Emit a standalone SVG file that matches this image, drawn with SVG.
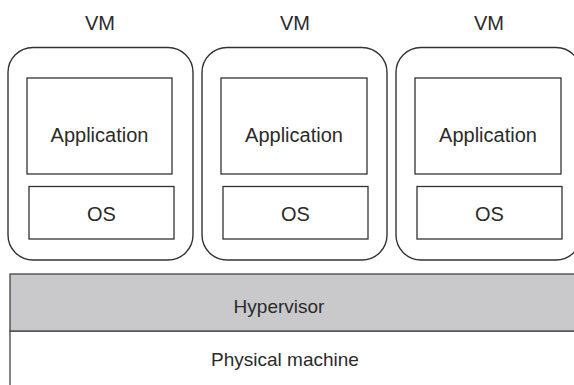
<svg xmlns="http://www.w3.org/2000/svg" width="574" height="385" viewBox="0 0 574 385">
<style>
.vm{fill:none;stroke:#333;stroke-width:1.4}
.box{fill:#fff;stroke:#333;stroke-width:1.3}
.hv{fill:#c9c9cb;stroke:#444;stroke-width:1.3}
.pm{fill:#fff;stroke:#444;stroke-width:1.3}
text{font-family:"Liberation Sans",Arial,sans-serif;fill:#2b2b2b;text-anchor:middle}
.t20{font-size:20px}
.t19{font-size:19px}
</style>
<rect width="574" height="385" fill="#fff"/>
<g id="physical">
<rect class="pm" x="10" y="331" width="580" height="70"/>
<text class="t19" x="285" y="366">Physical machine</text>
</g>
<g id="hypervisor">
<rect class="hv" x="10" y="274" width="580" height="57"/>
<text class="t19" x="279" y="313">Hypervisor</text>
</g>
<g id="vm1">
<text class="t20" x="100" y="30">VM</text>
<rect class="vm" x="8" y="47.5" width="185" height="212.5" rx="25" ry="25"/>
<g id="app1"><rect class="box" x="27" y="78" width="145" height="96"/><text class="t20" x="99.5" y="142">Application</text></g>
<g id="os1"><rect class="box" x="29" y="186.5" width="145" height="52.5"/><text class="t20" x="101.5" y="221">OS</text></g>
</g>
<g id="vm2">
<text class="t20" x="295" y="30">VM</text>
<rect class="vm" x="202" y="47.5" width="185" height="212.5" rx="25" ry="25"/>
<g id="app2"><rect class="box" x="221" y="78" width="146" height="96"/><text class="t20" x="294" y="142">Application</text></g>
<g id="os2"><rect class="box" x="223" y="186.5" width="145" height="52.5"/><text class="t20" x="295.5" y="221">OS</text></g>
</g>
<g id="vm3">
<text class="t20" x="489" y="30">VM</text>
<rect class="vm" x="396" y="47.5" width="185" height="212.5" rx="25" ry="25"/>
<g id="app3"><rect class="box" x="415" y="78" width="146" height="96"/><text class="t20" x="488" y="142">Application</text></g>
<g id="os3"><rect class="box" x="417" y="186.5" width="145" height="52.5"/><text class="t20" x="489.5" y="221">OS</text></g>
</g>
<g id="connectors"/>
</svg>
